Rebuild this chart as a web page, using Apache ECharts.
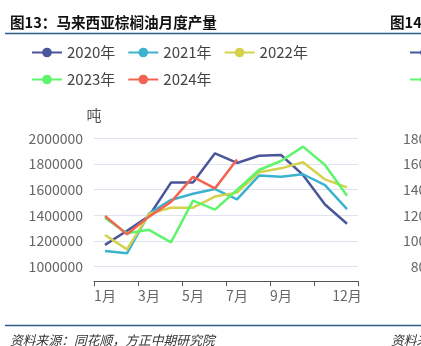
<!DOCTYPE html>
<html><head><meta charset="utf-8">
<script src="https://cdn.jsdelivr.net/npm/echarts@6/dist/echarts.min.js"></script>
<style>html,body{margin:0;padding:0;background:#fff}#c{width:421px;height:346px}</style>
</head><body><div id="c"></div>
<script>
const months = ['1月','2月','3月','4月','5月','6月','7月','8月','9月','10月','11月','12月'];
const seriesNames = ['2020年','2021年','2022年','2023年','2024年'];
const y2020 = [1170000,1280000,1395000,1655000,1655000,1883000,1808000,1864000,1870000,1715000,1484000,1335000];
const y2021 = [1122000,1104000,1414000,1520000,1568000,1605000,1525000,1710000,1700000,1720000,1635000,1449000];
const y2022 = [1247000,1135000,1410000,1460000,1460000,1546000,1577000,1735000,1766000,1813000,1680000,1618000];
const y2023 = [1380000,1260000,1287000,1190000,1514000,1445000,1597000,1753000,1823000,1935000,1792000,1553000];
const y2024 = [1395000,1252000,1390000,1505000,1700000,1610000,1835000];
const colors = ['#4a559a','#3bb3cf','#d3d24a','#5ef46c','#f26452'];
const rightTicks = [800,1000,1200,1400,1600,1800];
const shownMonthIdx = [0,2,4,6,8,11];
const FONT = '"Noto Sans CJK SC", sans-serif';
const allData = [y2020,y2021,y2022,y2023,y2024];

const legendStyle = {fontSize: 15, color: '#444', fontFamily: FONT, width: 54, overflow: 'none'};
const titleStyle = {fontSize: 14.6, fontWeight: 'bold', color: '#111', fontFamily: FONT};
const srcStyle = {fontSize: 12.8, fontWeight: 'normal', fontStyle: 'italic', color: '#333', fontFamily: FONT};
const chart = echarts.init(document.getElementById('c'));
chart.setOption({
  animation: false,
  textStyle: {fontFamily: FONT},
  title: [
    {text: '图13：马来西亚棕榈油月度产量', left: 5, top: 10, textStyle: titleStyle},
    {text: '图14：', left: 385, top: 10, textStyle: titleStyle},
    {text: '资料来源：同花顺，方正中期研究院', left: 5, top: 329, textStyle: srcStyle},
    {text: '资料来源：同花顺，方正中期研究院', left: 386, top: 329, textStyle: srcStyle}
  ],
  graphic: [
    {type: 'line', shape: {x1: 5, y1: 33.5, x2: 421, y2: 33.5}, style: {stroke: '#2c5d88', lineWidth: 1.5}},
    {type: 'line', shape: {x1: 5, y1: 325.5, x2: 421, y2: 325.5}, style: {stroke: '#2c5d88', lineWidth: 1.5}}
  ],
  legend: [
    {left: 31, top: 45, width: 320, itemWidth: 30, itemHeight: 12, itemGap: 12, padding: 0, data: seriesNames, textStyle: legendStyle},
    {left: 409, top: 45, width: 320, itemWidth: 30, itemHeight: 12, itemGap: 12, padding: 0, data: seriesNames, textStyle: legendStyle}
  ],
  grid: [
    {left: 94, right: 63, top: 138.3, bottom: 79.3, containLabel: false},
    {left: 446, right: -300, top: 138.3, bottom: 79.3, containLabel: false}
  ],
  xAxis: [
    {type: 'category', data: months, boundaryGap: true, offset: 14.5, gridIndex: 0,
     axisLine: {lineStyle: {color: '#555', width: 1}},
     axisTick: {show: true, interval: 1, length: 5, lineStyle: {color: '#555'}},
     axisLabel: {interval: function(i){return shownMonthIdx.indexOf(i) >= 0;}, fontSize: 14, color: '#666', margin: 7, fontFamily: FONT}},
    {type: 'category', data: months, gridIndex: 1, show: false}
  ],
  yAxis: [
    {type: 'value', min: 1000000, max: 2000000, interval: 200000, gridIndex: 0,
     name: '吨', nameLocation: 'end', nameGap: 16, nameTextStyle: {fontSize: 15, color: '#555', fontFamily: FONT, align: 'center'},
     axisLine: {show: false}, axisTick: {show: false},
     axisLabel: {fontSize: 14, color: '#666', margin: 11, fontFamily: FONT, formatter: function(v){return String(v);}},
     splitLine: {lineStyle: {color: '#dfe3ef', width: 1}}},
    {type: 'value', min: rightTicks[0], max: rightTicks[rightTicks.length-1], interval: 200, gridIndex: 1,
     axisLine: {show: false}, axisTick: {show: false},
     axisLabel: {fontSize: 14, color: '#666', margin: 12, fontFamily: FONT, formatter: function(v){return String(v);}},
     splitLine: {show: false}}
  ],
  series: seriesNames.map((n, i) => ({
    name: n, type: 'line', data: allData[i], xAxisIndex: 0, yAxisIndex: 0,
    symbol: 'circle', symbolSize: 12, showSymbol: false,
    lineStyle: {width: 2.5, color: colors[i]}, itemStyle: {color: colors[i]}
  }))
});
</script></body></html>
